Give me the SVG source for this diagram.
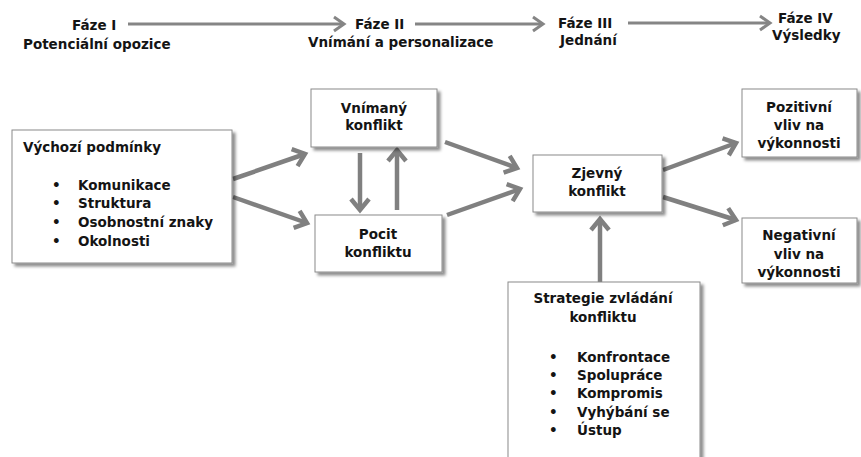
<svg xmlns="http://www.w3.org/2000/svg" width="861" height="457" viewBox="0 0 861 457">
<style>
text{font-family:"DejaVu Sans",Verdana,sans-serif;font-weight:bold;font-size:13.5px;fill:#141414}
.c{text-anchor:middle}
.box{fill:#fff;stroke:#8a8a8a;stroke-width:1}
.conn{fill:none;stroke:#808080;stroke-width:4.5}
.top{fill:none;stroke:#858585;stroke-width:3}
</style>
<defs>
<filter id="sh" x="-10%" y="-10%" width="130%" height="130%">
<feDropShadow dx="3" dy="3" stdDeviation="1.6" flood-color="#000" flood-opacity="0.45"/>
</filter>
<marker id="ah" markerUnits="userSpaceOnUse" markerWidth="30" markerHeight="30" refX="0" refY="0" viewBox="-16 -15 30 30" orient="auto" overflow="visible">
<path d="M-11,-9 L0,0 L-11,9" fill="none" stroke="#808080" stroke-width="4.5" stroke-linecap="butt" stroke-linejoin="miter"/>
</marker>
<marker id="ahs" markerUnits="userSpaceOnUse" markerWidth="30" markerHeight="30" refX="0" refY="0" viewBox="-16 -15 30 30" orient="auto" overflow="visible">
<path d="M-10,-7 L0,0 L-10,7" fill="none" stroke="#858585" stroke-width="3" stroke-linejoin="miter"/>
</marker>
</defs>
<rect width="861" height="457" fill="#fff"/>

<g id="phases">
<text x="72" y="30">Fáze I</text>
<text x="23" y="49">Potenciální opozice</text>
<text x="355" y="29">Fáze II</text>
<text x="308" y="47">Vnímání a personalizace</text>
<text x="558" y="28">Fáze III</text>
<text x="560" y="45">Jednání</text>
<text x="778" y="23">Fáze IV</text>
<text x="772" y="40">Výsledky</text>
</g>

<g id="connectors">
<path class="top" d="M128,24 H344" marker-end="url(#ahs)"/>
<path class="top" d="M415,24 H543" marker-end="url(#ahs)"/>
<path class="top" d="M628,23 H770" marker-end="url(#ahs)"/>
<path class="conn" d="M233,179 L305,154" marker-end="url(#ah)"/>
<path class="conn" d="M233,197 L307,223" marker-end="url(#ah)"/>
<path class="conn" d="M360,153 L360,210" marker-end="url(#ah)"/>
<path class="conn" d="M397,210 L397,150" marker-end="url(#ah)"/>
<path class="conn" d="M445,142 L517,168" marker-end="url(#ah)"/>
<path class="conn" d="M447,215 L520,189" marker-end="url(#ah)"/>
<path class="conn" d="M663,170 L736,143" marker-end="url(#ah)"/>
<path class="conn" d="M663,197 L736,220" marker-end="url(#ah)"/>
<path class="conn" d="M600,282 L600,219" marker-end="url(#ah)"/>
</g>

<g id="vychozi">
<rect class="box" x="12" y="130" width="220" height="133" filter="url(#sh)"/>
<text x="23" y="152">Výchozí podmínky</text>
<text x="52" y="190">•</text><text x="78" y="190">Komunikace</text>
<text x="52" y="208">•</text><text x="78" y="208">Struktura</text>
<text x="52" y="227">•</text><text x="78" y="227">Osobnostní znaky</text>
<text x="52" y="246">•</text><text x="78" y="246">Okolnosti</text>
</g>

<g id="vnimany">
<rect class="box" x="311" y="89" width="126" height="58" filter="url(#sh)"/>
<text class="c" x="374" y="113">Vnímaný</text>
<text class="c" x="374" y="130">konflikt</text>
</g>

<g id="pocit">
<rect class="box" x="315" y="215" width="127" height="57" filter="url(#sh)"/>
<text class="c" x="378" y="239">Pocit</text>
<text class="c" x="378" y="257">konfliktu</text>
</g>

<g id="zjevny">
<rect class="box" x="533" y="155" width="129" height="57" filter="url(#sh)"/>
<text class="c" x="597" y="178">Zjevný</text>
<text class="c" x="597" y="196">konflikt</text>
</g>

<g id="pozitivni">
<rect class="box" x="742" y="89" width="115" height="68" filter="url(#sh)"/>
<text class="c" x="799" y="112">Pozitivní</text>
<text class="c" x="799" y="130">vliv na</text>
<text class="c" x="799" y="148">výkonnosti</text>
</g>

<g id="negativni">
<rect class="box" x="742" y="218" width="115" height="65" filter="url(#sh)"/>
<text class="c" x="799" y="240">Negativní</text>
<text class="c" x="799" y="259">vliv na</text>
<text class="c" x="799" y="277">výkonnosti</text>
</g>

<g id="strategie">
<rect class="box" x="508" y="282" width="192" height="190" filter="url(#sh)"/>
<text class="c" x="603" y="303">Strategie zvládání</text>
<text class="c" x="603" y="322">konfliktu</text>
<text x="549" y="362">•</text><text x="577" y="362">Konfrontace</text>
<text x="549" y="380">•</text><text x="577" y="380">Spolupráce</text>
<text x="549" y="398">•</text><text x="577" y="398">Kompromis</text>
<text x="549" y="417">•</text><text x="577" y="417">Vyhýbání se</text>
<text x="549" y="435">•</text><text x="577" y="435">Ústup</text>
</g>
</svg>
